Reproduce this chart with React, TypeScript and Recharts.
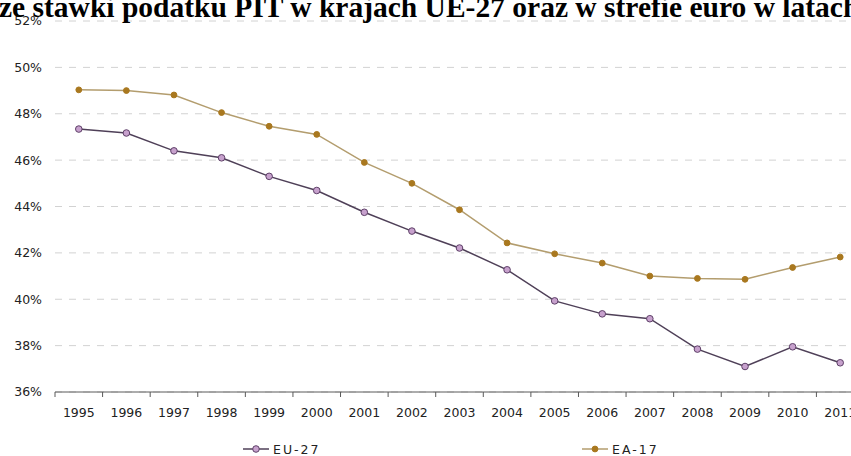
import { LineChart, Line, XAxis, YAxis, CartesianGrid } from "recharts"

// Top personal income tax rate, EU-27 vs euro area (EA-17), 1995–2011
const years = [
  "1995", "1996", "1997", "1998", "1999", "2000", "2001", "2002", "2003",
  "2004", "2005", "2006", "2007", "2008", "2009", "2010", "2011",
]
const eu27 = [
  47.34, 47.17, 46.4, 46.1, 45.3, 44.69, 43.75, 42.94, 42.21,
  41.27, 39.93, 39.37, 39.16, 37.85, 37.1, 37.95, 37.26,
]
const ea17 = [
  49.03, 49.0, 48.81, 48.05, 47.46, 47.11, 45.9, 45.0, 43.86,
  42.43, 41.96, 41.56, 41.0, 40.9, 40.86, 41.37, 41.82,
]
const yTicks = [36, 38, 40, 42, 44, 46, 48, 50, 52]
const seriesNames = ["EU-27", "EA-17"]
const title = "ze stawki podatku PIT w krajach UE-27 oraz w strefie euro w latach"

const data = years.map((year, i) => ({ idx: i, year, eu27: eu27[i], ea17: ea17[i] }))

// label ticks sit on the years, tick marks sit between them
const xTicks: number[] = []
for (let i = 0; i <= years.length; i++) {
  xTicks.push(i - 0.5)
  if (i < years.length) xTicks.push(i)
}

const FONT = "'DejaVu Sans', Verdana, sans-serif"
const AXIS = "#5a5a5a"

const EU_LINE = "#4f4058"
const EU_FILL = "#c7a1cd"
const EU_EDGE = "#5e4068"
const EA_LINE = "#b39d6e"
const EA_FILL = "#a9781f"

function YearTick(props: any) {
  const { x, y, payload } = props
  const v = payload.value as number
  if (Number.isInteger(v)) {
    return (
      <text x={x} y={y + 24.5} textAnchor="middle" fontFamily={FONT} fontSize={12.5} fill="#222">
        {years[v]}
      </text>
    )
  }
  return <line x1={x} y1={y} x2={x} y2={y + 5} stroke={AXIS} strokeWidth={1} />
}

function LegendItem({ name, line, fill, edge, r, x }: any) {
  return (
    <g transform={`translate(${x},449)`}>
      <line x1={0} y1={0} x2={26} y2={0} stroke={line} strokeWidth={1.5} />
      <circle cx={13} cy={0} r={r} fill={fill} stroke={edge} strokeWidth={1} />
      <text x={30} y={0} dy="0.36em" fontFamily={FONT} fontSize={12.5} letterSpacing={2} fill="#222">
        {name}
      </text>
    </g>
  )
}

export default function App() {
  return (
    <div
      style={{
        position: "absolute",
        left: 0,
        top: 0,
        width: 851,
        height: 456,
        overflow: "hidden",
        background: "#fff",
      }}
    >
      <LineChart
        width={880}
        height={456}
        data={data}
        margin={{ top: 21, right: 16, bottom: 34, left: 0 }}
      >
        <CartesianGrid vertical={false} stroke="#d2d2d2" strokeDasharray="7 7" />
        <XAxis
          dataKey="idx"
          type="number"
          domain={[-0.5, years.length - 0.5]}
          ticks={xTicks}
          interval={0}
          tick={<YearTick />}
          tickLine={false}
          tickSize={0}
          tickMargin={0}
          axisLine={{ stroke: AXIS, strokeWidth: 1 }}
          height={30}
        />
        <YAxis
          domain={[36, 52]}
          ticks={yTicks}
          tickFormatter={(v) => `${v}%`}
          axisLine={false}
          tickLine={false}
          tickSize={0}
          tickMargin={13}
          width={55}
          tick={{ fontFamily: FONT, fontSize: 12.5, fill: "#222" }}
        />
        <Line
          type="linear"
          dataKey="ea17"
          name={seriesNames[1]}
          stroke={EA_LINE}
          strokeWidth={1.5}
          dot={{ r: 2.9, fill: EA_FILL, stroke: EA_FILL, strokeWidth: 1 }}
          isAnimationActive={false}
        />
        <Line
          type="linear"
          dataKey="eu27"
          name={seriesNames[0]}
          stroke={EU_LINE}
          strokeWidth={1.5}
          dot={{ r: 3.3, fill: EU_FILL, stroke: EU_EDGE, strokeWidth: 1 }}
          isAnimationActive={false}
        />
      </LineChart>

      <svg
        width={851}
        height={456}
        style={{ position: "absolute", left: 0, top: 0, pointerEvents: "none" }}
      >
        <text x={-1} y={17} fontFamily="'Liberation Serif', 'Times New Roman', serif" fontWeight="bold" fontSize={29.5} fill="#000">
          {title}
        </text>
        <LegendItem name={seriesNames[0]} line={EU_LINE} fill={EU_FILL} edge={EU_EDGE} r={3.3} x={243} />
        <LegendItem name={seriesNames[1]} line={EA_LINE} fill={EA_FILL} edge={EA_FILL} r={2.9} x={582} />
      </svg>
    </div>
  )
}
